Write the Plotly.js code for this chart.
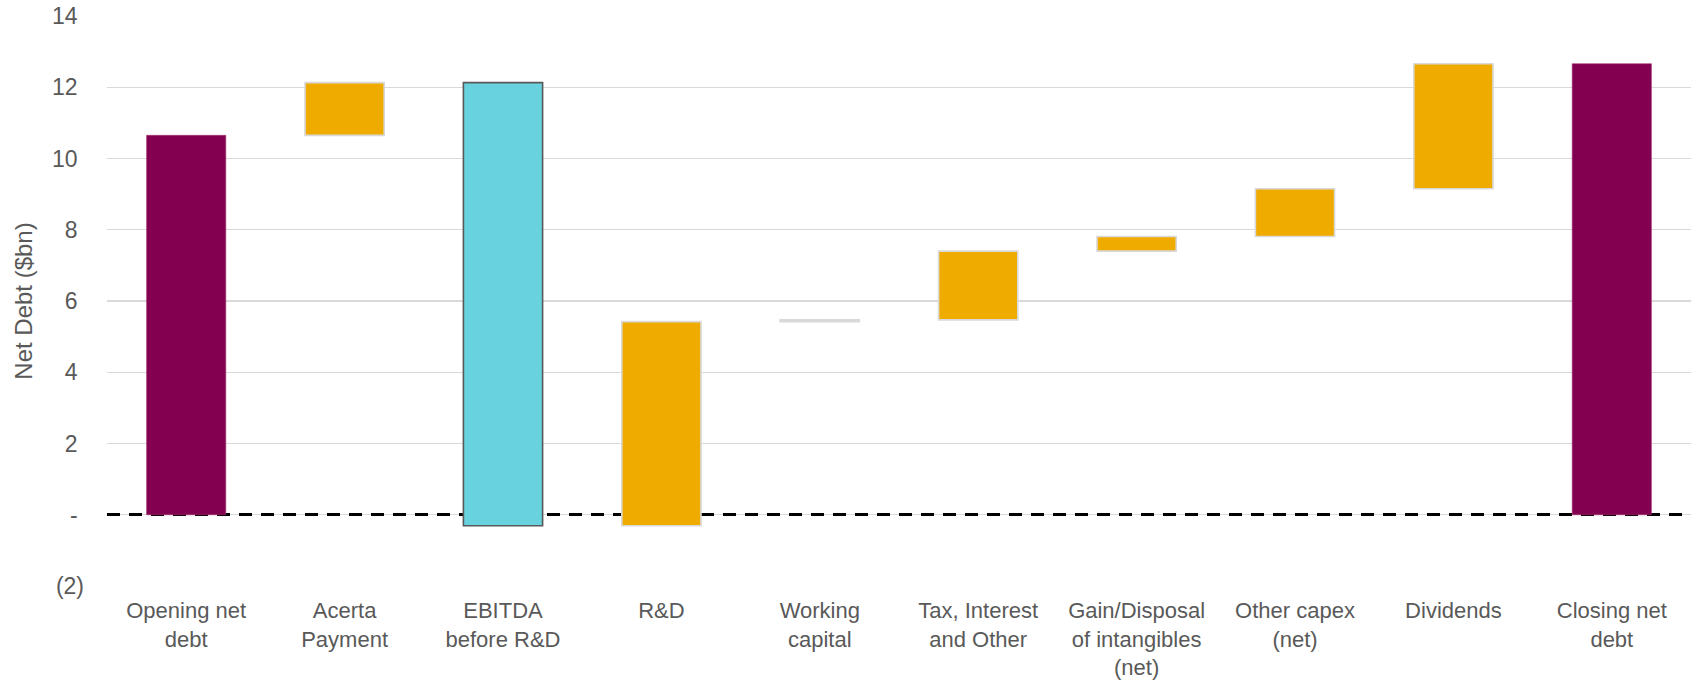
<!DOCTYPE html>
<html>
<head>
<meta charset="utf-8">
<script src="https://cdn.plot.ly/plotly-3.0.1.min.js"></script>
<style>html,body{margin:0;padding:0;background:#fff;}#chart{width:1698px;height:681px;}</style>
</head>
<body>
<div id="chart"></div>
<script>
// Categories (x-axis tick labels)
const categories = [
  "Opening net<br>debt",
  "Acerta<br>Payment",
  "EBITDA<br>before R&D",
  "R&D",
  "Working<br>capital",
  "Tax, Interest<br>and Other",
  "Gain/Disposal<br>of intangibles<br>(net)",
  "Other capex<br>(net)",
  "Dividends",
  "Closing net<br>debt"
];
// Bottom and top of each floating bar ($bn)
const barLow  = [0,     10.65, -0.31, -0.31, 5.42, 5.47, 7.40, 7.81, 9.15, 0];
const barHigh = [10.65, 12.13, 12.13,  5.42, 5.47, 7.40, 7.81, 9.15, 12.66, 12.66];
// Bar kind: total / driver / change
const barKind = ["total","change","driver","change","change","change","change","change","change","total"];
// Y-axis ticks (accounting format: positives keep a trailing space)
const yTickVals = [-2, 0, 2, 4, 6, 8, 10, 12, 14];
const yTickText = ["(2)", "-&nbsp;", "2&nbsp;", "4&nbsp;", "6&nbsp;", "8&nbsp;", "10&nbsp;", "12&nbsp;", "14&nbsp;"];
// Reference (dashed) line level
const baselineLevel = [0];

const fillFor = {total: "#830051", driver: "#68D2DF", change: "#F0AB00"};
const lineFor = {total: "#a0306f", driver: "#595959", change: "#d9d9d9"};
const lineWFor = {total: 0.6, driver: 1.6, change: 1.6};

const trace = {
  type: "bar",
  x: categories,
  base: barLow,
  y: barHigh.map((h, i) => h - barLow[i]),
  width: 0.5,
  marker: {
    color: barKind.map(k => fillFor[k]),
    line: {color: barKind.map(k => lineFor[k]), width: barKind.map(k => lineWFor[k])}
  },
  hoverinfo: "skip",
  showlegend: false
};
// invisible trace to activate the overlay axis carrying the dashed baseline grid
const overlayTrace = {
  type: "scatter", mode: "markers",
  x: [categories[0]], y: baselineLevel,
  yaxis: "y2",
  marker: {opacity: 0, size: 1},
  hoverinfo: "skip", showlegend: false
};

const fam = "Liberation Sans, Arial, sans-serif";
const grey = "#595959";

const layout = {
  width: 1698, height: 681,
  margin: {l: 107, r: 7, t: 16, b: 95},
  paper_bgcolor: "#ffffff", plot_bgcolor: "#ffffff",
  font: {family: fam, size: 22, color: grey},
  xaxis: {
    type: "category",
    range: [-0.5, 9.5],
    showgrid: false, zeroline: false, showline: false,
    ticks: "", ticklabelstandoff: 9,
    tickfont: {family: fam, size: 22, color: grey},
    fixedrange: true
  },
  yaxis: {
    range: [-2, 14],
    tickvals: yTickVals, ticktext: yTickText,
    showgrid: true, gridcolor: "#d9d9d9", gridwidth: 1.3,
    zeroline: false, showline: false,
    ticks: "", ticklabelstandoff: 22,
    tickfont: {family: fam, size: 23, color: grey},
    title: {text: "Net Debt ($bn)", font: {family: fam, size: 24, color: grey}, standoff: 12},
    automargin: false,
    fixedrange: true
  },
  yaxis2: {
    overlaying: "y", side: "left",
    range: [-2, 14],
    tickvals: baselineLevel,
    showticklabels: false, ticks: "",
    showgrid: true, gridcolor: "#000000", gridwidth: 3, griddash: "13px,9px",
    zeroline: false, showline: false,
    automargin: false,
    fixedrange: true
  }
};

Plotly.newPlot("chart", [trace, overlayTrace], layout, {displayModeBar: false, staticPlot: true});
</script>
</body>
</html>
